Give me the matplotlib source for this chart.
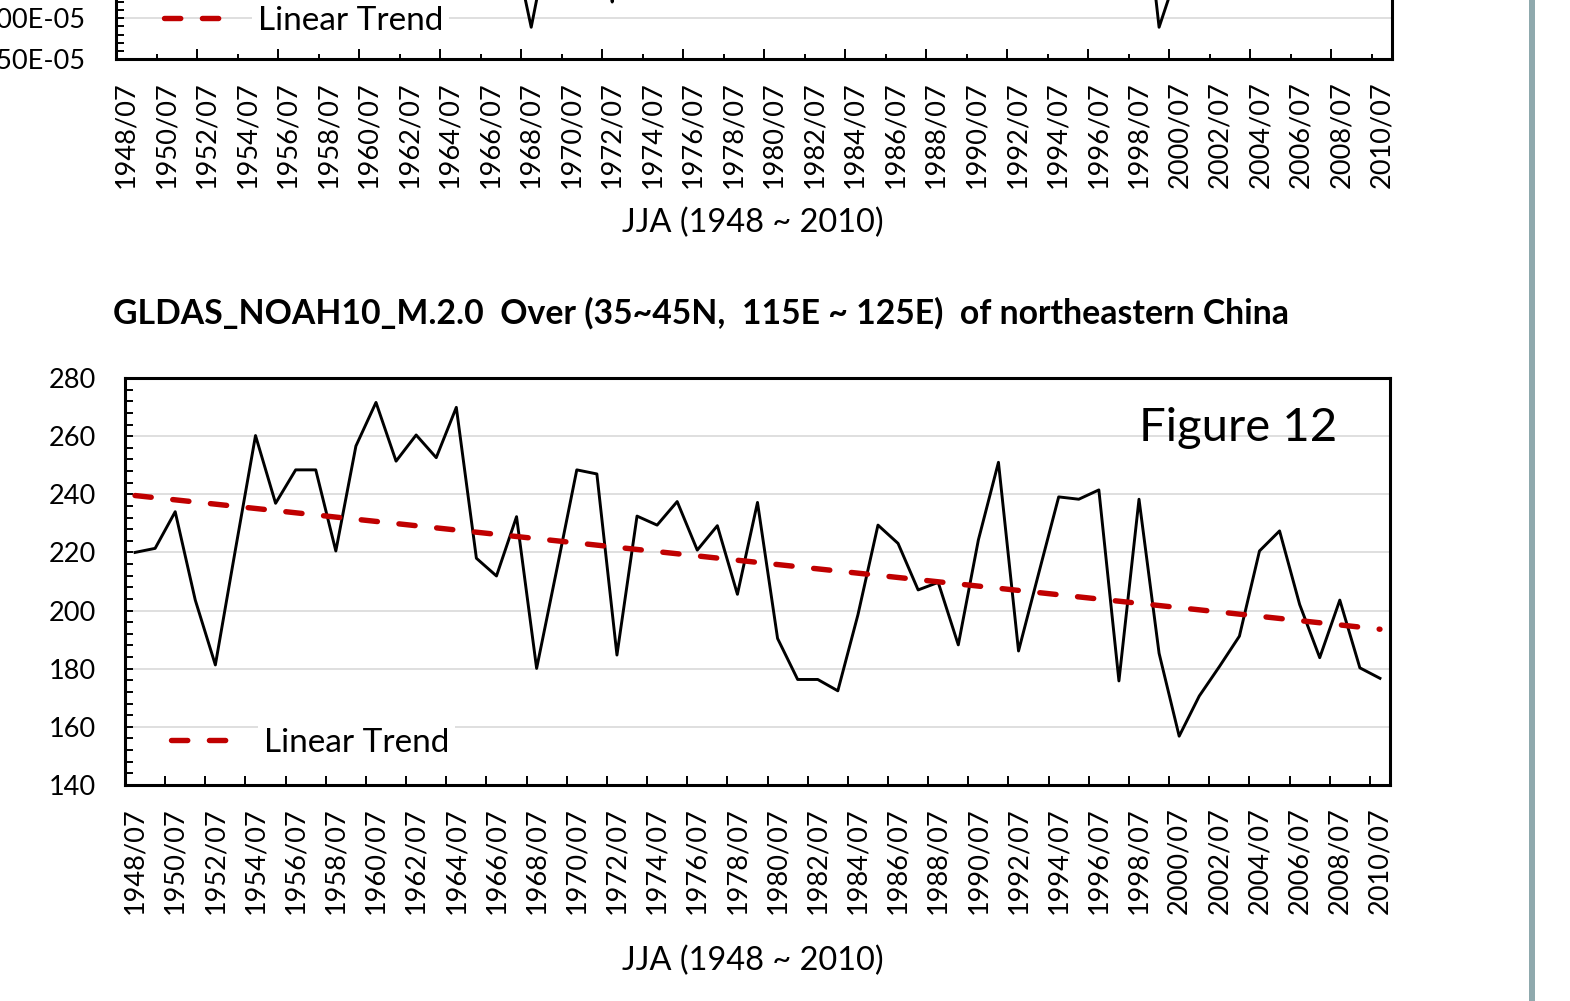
import numpy as np
import matplotlib
matplotlib.use("Agg")
import matplotlib.pyplot as plt
from matplotlib.lines import Line2D
from matplotlib.patches import Rectangle
from matplotlib.ticker import FixedLocator, MultipleLocator, FuncFormatter

plt.rcParams["font.family"] = ["Lato", "DejaVu Sans"]

W, H = 1570, 1001

years = np.arange(1948, 2011)
year_labels = [f"{y}/07" for y in years]

# JJA series, GLDAS_NOAH10_M.2.0 (lower panel)
noah_values = [
    220.0, 221.4, 234.0, 203.6, 181.3, 221.0, 260.2, 236.9, 248.4, 248.4,
    220.5, 256.6, 271.6, 251.4, 260.4, 252.6, 269.9, 218.0, 211.9, 232.3,
    180.1, 214.0, 248.4, 247.0, 184.7, 232.5, 229.4, 237.5, 220.8, 229.2,
    205.6, 237.2, 190.4, 176.3, 176.3, 172.4, 198.5, 229.4, 223.1, 207.1,
    209.7, 188.2, 224.3, 251.0, 186.1, 212.7, 239.1, 238.3, 241.5, 175.8,
    238.3, 185.3, 156.8, 170.6, 180.7, 191.2, 220.5, 227.4, 202.1, 183.8,
    203.6, 180.3, 176.7,
]

# upper panel is cut off by the page: only its lowest troughs are visible
upper_years = [1967, 1968, 1969, 1971, 1972, 1973, 1998, 1999, 2000]
upper_values = [0.06e-5, -1.11e-5, 0.15e-5, 0.5e-5, -0.80e-5, 0.5e-5,
                1.1e-5, -1.11e-5, -0.36e-5]

TREND_RED = "#c00000"
GRID = "#d9d9d9"
FS = 19.5
TREND_DASH = (0, (3.0, 4.0))
TREND_LW = 3.9


def px_rect(left, top, right, bottom):
    return [left / W, 1 - bottom / H, (right - left) / W, (bottom - top) / H]


def style_axes(ax):
    for side in ax.spines.values():
        side.set_linewidth(2.2)
        side.set_color("black")
    ax.set_xlim(-0.5, len(years) - 0.5)
    ax.grid(axis="y", which="major", color=GRID, linewidth=1.2, zorder=0)
    ax.set_axisbelow(True)
    ax.xaxis.set_major_locator(FixedLocator(np.arange(0, len(years), 2)))
    ax.set_xticklabels(year_labels[::2], rotation=90, fontsize=FS)
    ax.tick_params(axis="x", which="major", length=0, pad=16)
    ax.tick_params(axis="y", which="both", direction="in", length=5.8,
                   width=1.4, labelsize=FS, pad=21)


def add_legend(ax, x, y):
    handle = Line2D([], [], color=TREND_RED, lw=TREND_LW, linestyle=TREND_DASH,
                    dash_capstyle="round")
    leg = ax.legend([handle], ["Linear Trend"], loc="center left",
                    bbox_to_anchor=(x, y), frameon=False, borderpad=0,
                    borderaxespad=0, handlelength=1.9, handletextpad=0.9,
                    fontsize=24)
    leg.get_texts()[0].set_bbox(dict(facecolor="white", edgecolor="none", pad=4))
    return leg


fig = plt.figure(figsize=(W / 100, H / 100), dpi=100)

# ---- upper panel (mostly above the visible page)
ax_up = fig.add_axes(px_rect(116, -348, 1392, 59))
style_axes(ax_up)
ax_up.set_ylim(-1.5e-5, 3.5e-5)
ax_up.yaxis.set_major_locator(MultipleLocator(0.5e-5))
ax_up.yaxis.set_minor_locator(MultipleLocator(0.1e-5))
ax_up.yaxis.set_major_formatter(FuncFormatter(lambda v, _: f"{v:.2E}"))
ax_up.tick_params(axis="y", pad=22)
ax_up.xaxis.set_minor_locator(FixedLocator(np.arange(3.5, len(years), 4)))
ax_up.tick_params(axis="x", which="minor", direction="in", length=7.5, width=1.4)
short_pos = np.arange(1.5, len(years), 4)
ax_up.vlines(short_pos, 0, 5 / 407, transform=ax_up.get_xaxis_transform(),
             color="black", lw=1.4)
upper_series = np.full(len(years), np.nan)
for yr, val in zip(upper_years, upper_values):
    upper_series[yr - years[0]] = val
ax_up.plot(np.arange(len(years)), upper_series, color="black", lw=2.1)
add_legend(ax_up, 0.038, 0.093)
fig.text(753 / W, 1 - 223 / H, "JJA (1948 ~ 2010)", ha="center", va="center",
         fontsize=23.4)

# ---- lower panel
ax = fig.add_axes(px_rect(125, 378, 1390, 785))
style_axes(ax)
ax.set_ylim(140, 280)
ax.yaxis.set_major_locator(MultipleLocator(20))
ax.yaxis.set_minor_locator(MultipleLocator(4))
ax.xaxis.set_minor_locator(FixedLocator(np.arange(1.5, len(years), 2)))
ax.tick_params(axis="x", which="minor", direction="in", length=6.5, width=1.4)

x = np.arange(len(years))
ax.plot(x, noah_values, color="black", lw=2.1, zorder=3)
coef = np.polyfit(years, noah_values, 1)
ax.plot(x, np.polyval(coef, years), color=TREND_RED, lw=TREND_LW,
        linestyle=TREND_DASH, dash_capstyle="round", zorder=4)
add_legend(ax, 0.036, 0.103)
ax.text(0.958, 0.877, "Figure 12", transform=ax.transAxes, ha="right",
        va="center", fontsize=34)

fig.text(113 / W, 1 - 313 / H,
         "GLDAS_NOAH10_M.2.0  Over (35~45N,  115E ~ 125E)  of northeastern China",
         ha="left", va="center", fontsize=24.3, fontweight="bold")
fig.text(753 / W, 1 - 961 / H, "JJA (1948 ~ 2010)", ha="center", va="center",
         fontsize=23.4)

# page edge on the right
fig.add_artist(Rectangle((1529 / W, 0), 6 / W, 1, transform=fig.transFigure,
                         facecolor="#8fa9ad", edgecolor="none"))

fig.savefig("out.png", dpi=100)
